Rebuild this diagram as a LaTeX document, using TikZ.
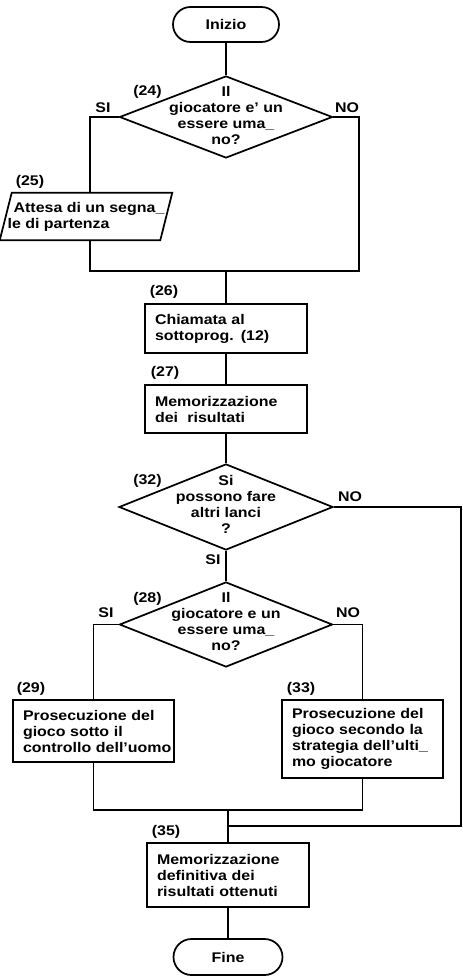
\documentclass[tikz,border=0pt]{standalone}
\usepackage{fontspec}
\setmainfont{Liberation Sans}[FakeStretch=1.14]
\usetikzlibrary{shapes.geometric,shapes.misc}
\tikzset{
  flow/.style={draw, line width=1.3pt},
  term/.style={flow, rounded rectangle, inner sep=0pt},
  dec/.style={flow, diamond, inner sep=0pt},
  proc/.style={flow, rectangle, inner xsep=7.5pt, inner ysep=0pt, align=left},
  iobody/.style={rectangle, inner sep=0pt, align=left},
  txt/.style={inner sep=0pt, align=center},
  num/.style={inner sep=0pt},
  wire/.style={line width=1pt}
}
\begin{document}
\begin{tikzpicture}[x=0.75pt, y=-0.75pt, font=\fontsize{10.5pt}{12pt}\selectfont\bfseries]
\path[use as bounding box] (0,0) rectangle (463,977);

% --- shapes ---
\node[term, minimum width=79.5pt, minimum height=26.25pt] (start) at (226,24.5) {Inizio};
\node[dec, minimum width=159.75pt, minimum height=61.5pt] (d24) at (226,117) {};
\node[txt] (t24) at (226,115.5) {Il\\giocatore e' un\\essere uma\_\\no?};

% input/output step: body node plus slanted outline
\node[iobody, minimum width=120pt, minimum height=35.25pt] (p25) at (86,216.5)
  {\hspace*{4.5pt}Attesa di un segna\_\\le di partenza};
\draw[flow] ([xshift=-4.5pt]p25.south west) -- ([xshift=4.5pt]p25.north west)
  -- ([xshift=4.5pt]p25.north east) -- ([xshift=-4.5pt]p25.south east) -- cycle;

\node[proc, text width=106.5pt, minimum height=36.75pt] (b26) at (226,328.5)
  {Chiamata al\\sottoprog. (12)};
\node[proc, text width=106.5pt, minimum height=36pt] (b27) at (226,409)
  {Memorizzazione\\dei\ \ risultati};
\node[dec, minimum width=160.5pt, minimum height=64.5pt] (d32) at (226,507) {};
\node[txt] (t32) at (226,504) {Si\\possono fare\\altri lanci\\?};
\node[dec, minimum width=159.75pt, minimum height=63.75pt] (d28) at (226,624.5) {};
\node[txt] (t28) at (226,621) {Il\\giocatore e un\\essere uma\_\\no?};
\node[proc, text width=105.75pt, minimum height=46.5pt] (b29) at (93.5,731)
  {Prosecuzione del\\gioco sotto il\\controllo~dell'uomo};
\node[proc, text width=105.75pt, minimum height=58.5pt] (b33) at (362.5,739)
  {Prosecuzione del\\gioco secondo la\\strategia~dell'ulti\_\\mo giocatore};
\node[proc, text width=106.5pt, minimum height=48pt] (b35) at (228,875)
  {Memorizzazione\\definitiva dei\\risultati~ottenuti};
\node[term, minimum width=81.75pt, minimum height=27pt] (stop) at (228,957) {Fine};

% --- step numbers ---
\node[num] (n24) at (147.5,92) {(24)};
\node[num] (n25) at (30,182) {(25)};
\node[num] (n26) at (164,292) {(26)};
\node[num] (n27) at (165,373) {(27)};
\node[num] (n32) at (147.5,481) {(32)};
\node[num] (n28) at (147.5,599) {(28)};
\node[num] (n29) at (31,689) {(29)};
\node[num] (n33) at (301,689) {(33)};
\node[num] (n35) at (166,832) {(35)};

% --- branch labels ---
\node[num] (s24) at (103,108) {SI};
\node[num] (o24) at (347,108) {NO};
\node[num] (o32) at (350,497) {NO};
\node[num] (s32) at (213,560) {SI};
\node[num] (s28) at (106,613) {SI};
\node[num] (o28) at (348,613) {NO};

% --- bend points ---
\coordinate (aL) at (90,117);
\coordinate (aR) at (359,117);
\coordinate (jL) at (90,271);
\coordinate (jR) at (359,271);
\coordinate (j1) at (226,271);
\coordinate (rT) at (461,507);
\coordinate (rB) at (461,826);
\coordinate (j2) at (228,810);

% --- connectors ---
\draw[wire] (start.south) -- (d24.north);
\draw[wire] (d24.west) -- (aL) -- (aL |- p25.north);
\draw[wire] (aL |- p25.south) -- (jL) -- (jR) -- (aR) -- (d24.east);
\draw[wire] (j1) -- (b26.north);
\draw[wire] (b26.south) -- (b27.north);
\draw[wire] (b27.south) -- (d32.north);
\draw[wire] (d32.east) -- (rT) -- (rB) -- (rB -| b35.north);
\draw[wire] (d32.south) -- (d28.north);
\draw[wire] (d28.west) -| (b29.north);
\draw[wire] (d28.east) -| (b33.north);
\draw[wire] (b29.south) |- (j2) -| (b33.south);
\draw[wire] (j2) -- (b35.north);
\draw[wire] (b35.south) -- (stop.north);
\end{tikzpicture}
\end{document}
